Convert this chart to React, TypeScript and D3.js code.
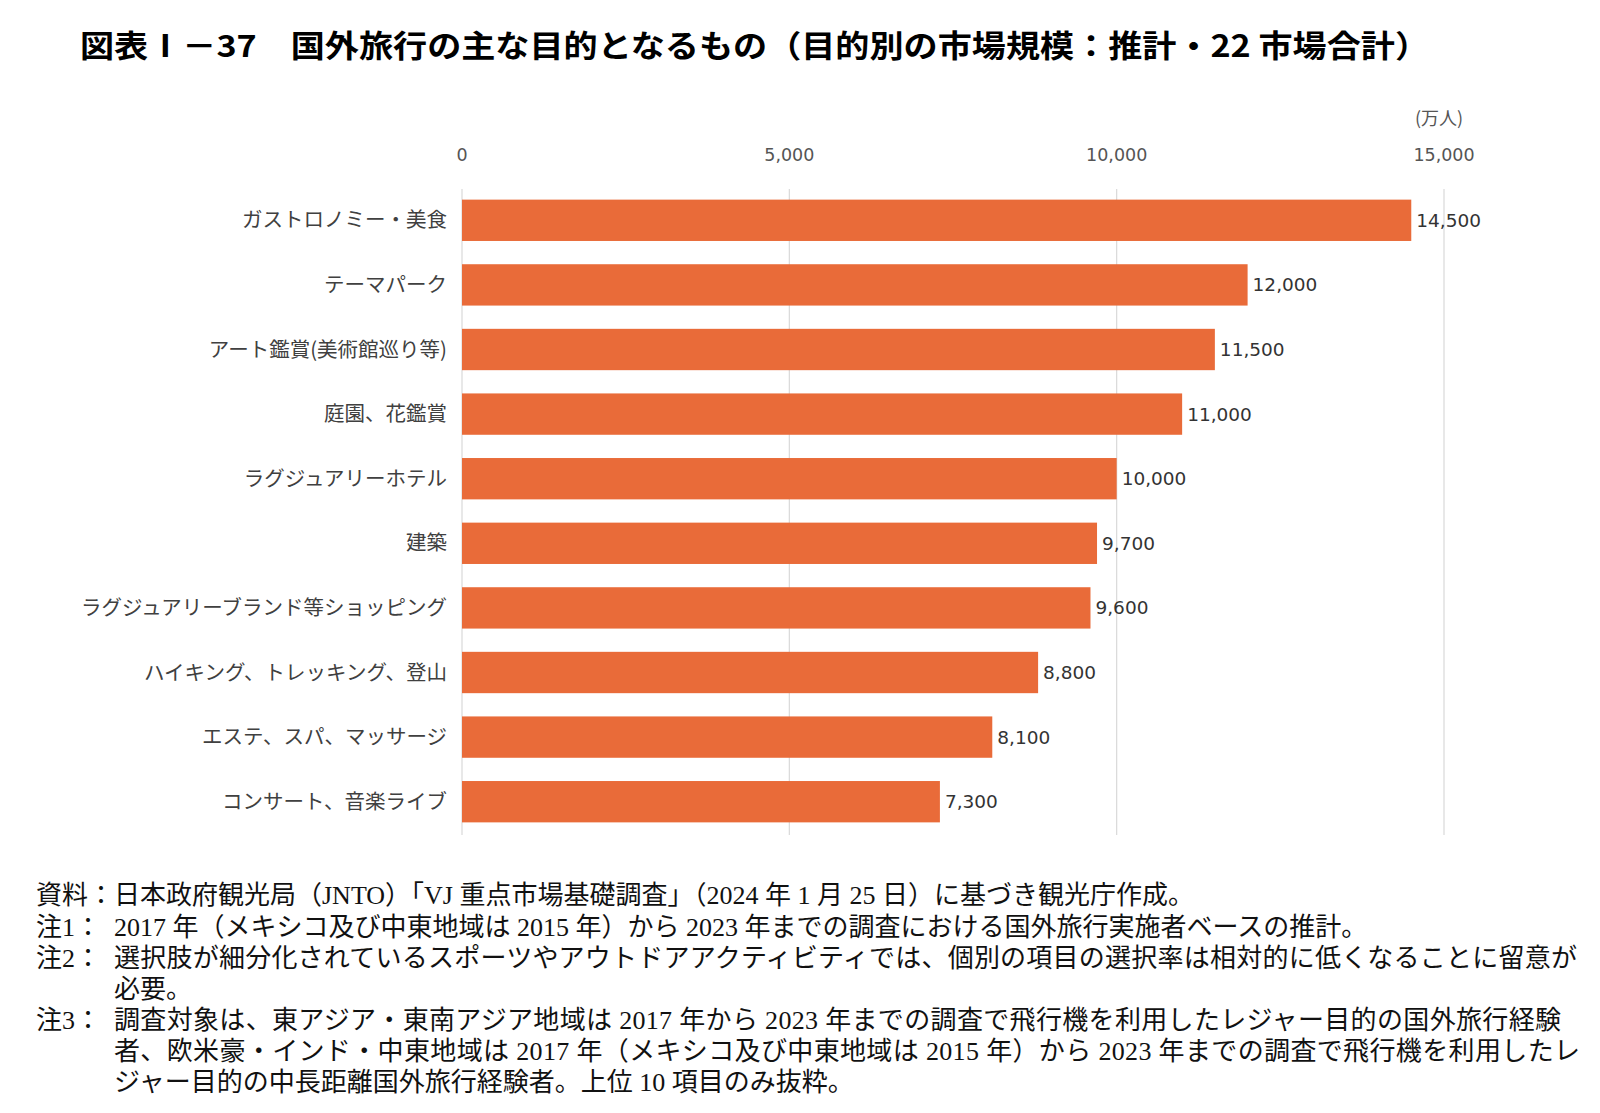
import React from "react";
import * as d3 from "d3";

const categories = [
  "ガストロノミー・美食",
  "テーマパーク",
  "アート鑑賞(美術館巡り等)",
  "庭園、花鑑賞",
  "ラグジュアリーホテル",
  "建築",
  "ラグジュアリーブランド等ショッピング",
  "ハイキング、トレッキング、登山",
  "エステ、スパ、マッサージ",
  "コンサート、音楽ライブ",
];
const values = [14500, 12000, 11500, 11000, 10000, 9700, 9600, 8800, 8100, 7300];
const ticks = [0, 5000, 10000, 15000];

const title = "図表Ⅰ－37　国外旅行の主な目的となるもの（目的別の市場規模：推計・22 市場合計）";
const unitLabel = "(万人)";

const notePrefixes = ["資料：", "注1：", "注2：", "", "注3：", "", ""];
const noteLines = [
  "日本政府観光局（JNTO）「VJ 重点市場基礎調査」（2024 年 1 月 25 日）に基づき観光庁作成。",
  "2017 年（メキシコ及び中東地域は 2015 年）から 2023 年までの調査における国外旅行実施者ベースの推計。",
  "選択肢が細分化されているスポーツやアウトドアアクティビティでは、個別の項目の選択率は相対的に低くなることに留意が",
  "必要。",
  "調査対象は、東アジア・東南アジア地域は 2017 年から 2023 年までの調査で飛行機を利用したレジャー目的の国外旅行経験",
  "者、欧米豪・インド・中東地域は 2017 年（メキシコ及び中東地域は 2015 年）から 2023 年までの調査で飛行機を利用したレ",
  "ジャー目的の中長距離国外旅行経験者。上位 10 項目のみ抜粋。",
];
// lines that are justified to the full text width in the source
const justified = [false, false, true, false, true, true, false];

export default function App() {
  const width = 1600;
  const height = 1113;
  const margin = { top: 188, bottom: 834, left: 462, right: 1444 };

  const x = d3.scaleLinear().domain([0, 15000]).range([margin.left, margin.right]);
  const y = d3
    .scaleBand()
    .domain(categories)
    .range([margin.top, margin.bottom])
    .paddingInner(0.36)
    .paddingOuter(0.18);

  const fmt = d3.format(",");
  const jp = "'Noto Sans CJK JP', 'Noto Sans', sans-serif";
  const num = "'DejaVu Sans', 'Noto Sans CJK JP', sans-serif";
  const note = "'Liberation Serif', 'Noto Sans CJK JP', serif";
  const noteY = d3.scaleLinear().domain([0, 6]).range([895, 1082]);

  return (
    <svg
      width={width}
      height={height}
      style={{ position: "absolute", left: 0, top: 0, background: "#fff" }}
    >
      <text
        x={80}
        y={46}
        dy="0.36em"
        fontFamily={jp}
        fontWeight={700}
        fontSize={31}
        textLength={1349}
        lengthAdjust="spacingAndGlyphs"
        fill="#000"
      >
        {title}
      </text>

      <text x={1439} y={119} dy="0.35em" textAnchor="middle" fontFamily={jp} fontSize={18} fill="#555">
        {unitLabel}
      </text>

      {/* gridlines and top tick labels */}
      {ticks.map(t => (
        <g key={t}>
          <line x1={x(t)} x2={x(t)} y1={189} y2={835} stroke="#d9d9d9" strokeWidth={1.2} />
          <text x={x(t)} y={155} dy="0.35em" textAnchor="middle" fontFamily={num} fontSize={17.5} fill="#555">
            {fmt(t)}
          </text>
        </g>
      ))}

      {categories.map((c, i) => {
        const yy = y(c) as number;
        const bh = y.bandwidth();
        return (
          <g key={c}>
            <rect x={x(0)} y={yy} width={x(values[i]) - x(0)} height={bh} fill="#E96B39" />
            <text
              x={447}
              y={yy + bh / 2}
              dy="0.35em"
              textAnchor="end"
              fontFamily={jp}
              fontSize={20.5}
              fill="#404040"
            >
              {c}
            </text>
            <text
              x={x(values[i]) + 5}
              y={yy + bh / 2}
              dy="0.35em"
              fontFamily={num}
              fontSize={18.5}
              fill="#333"
            >
              {fmt(values[i])}
            </text>
          </g>
        );
      })}

      {/* notes */}
      {noteLines.map((line, i) => (
        <g key={i}>
          {notePrefixes[i] && (
            <text x={36} y={noteY(i)} dy="0.36em" fontFamily={note} fontSize={26} fill="#111">
              {notePrefixes[i]}
            </text>
          )}
          <text
            x={114}
            y={noteY(i)}
            dy="0.36em"
            fontFamily={note}
            fontSize={26}
            fill="#111"
            {...(justified[i] ? { textLength: i === 4 ? 1447 : i === 5 ? 1466 : 1463, lengthAdjust: "spacing" } : {})}
          >
            {line}
          </text>
        </g>
      ))}
    </svg>
  );
}
